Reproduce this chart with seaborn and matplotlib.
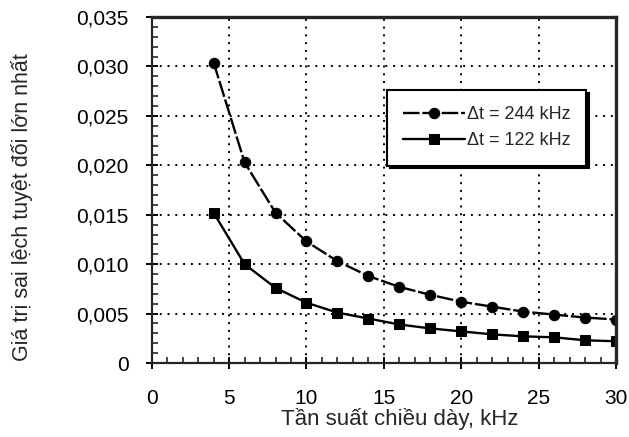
import matplotlib
matplotlib.use("Agg")
import matplotlib.pyplot as plt
from matplotlib.ticker import MultipleLocator, FuncFormatter
import seaborn as sns
import pandas as pd

# Thickness frequency (kHz) and max absolute deviation for two spectral steps
freq = [4, 6, 8, 10, 12, 14, 16, 18, 20, 22, 24, 26, 28, 30]
dev_244 = [0.0304, 0.0203, 0.0152, 0.0123, 0.0103, 0.0088, 0.0077,
           0.0069, 0.0062, 0.0057, 0.0052, 0.0049, 0.0046, 0.0044]
dev_122 = [0.0152, 0.0100, 0.0076, 0.0061, 0.0051, 0.0045, 0.0039,
           0.0035, 0.0032, 0.0029, 0.0027, 0.0026, 0.0023, 0.0022]
series_labels = ["\u0394t = 244 kHz", "\u0394t = 122 kHz"]

x_label = "Tần suất chiều dày, kHz"
y_label = "Giá trị sai lệch tuyệt đối lớn nhất"

df = pd.DataFrame({
    "freq": freq + freq,
    "dev": dev_244 + dev_122,
    "series": [series_labels[0]] * len(freq) + [series_labels[1]] * len(freq),
})

sns.set_style("ticks")
plt.rcParams["font.family"] = ["Liberation Sans", "DejaVu Sans"]

fig = plt.figure(figsize=(6.29, 4.37), dpi=100)
ax = fig.add_axes([0.2412, 0.1693, 0.7381, 0.7917])

sns.lineplot(
    data=df, x="freq", y="dev", hue="series", style="series",
    hue_order=series_labels, style_order=series_labels,
    palette=["black", "black"],
    markers={series_labels[0]: "o", series_labels[1]: "s"},
    dashes={series_labels[0]: (7, 1.2), series_labels[1]: ""},
    markersize=7.5, linewidth=1.7, markeredgecolor="black",
    ax=ax,
)

ax.set_xlim(0, 30)
ax.set_ylim(0, 0.035)
ax.xaxis.set_major_locator(MultipleLocator(5))
ax.xaxis.set_minor_locator(MultipleLocator(1))
ax.yaxis.set_major_locator(MultipleLocator(0.005))
ax.yaxis.set_minor_locator(MultipleLocator(0.001))


def comma_fmt(v, pos):
    if abs(v) < 1e-12:
        return "0"
    return f"{v:.3f}".replace(".", ",")


ax.yaxis.set_major_formatter(FuncFormatter(comma_fmt))

ax.tick_params(which="major", direction="inout", length=9, width=1.4,
               labelsize=15, colors="black")
ax.tick_params(which="minor", direction="in", length=4, width=1.2)
ax.tick_params(axis="x", which="major", pad=14)
ax.tick_params(axis="y", which="major", pad=12)

ax.grid(True, which="major", color="black", linestyle=(0, (1, 3)),
        linewidth=1.4)
ax.set_axisbelow(True)

for side in ["left", "bottom"]:
    ax.spines[side].set_linewidth(1.6)
for side in ["top", "right"]:
    ax.spines[side].set_visible(True)
    ax.spines[side].set_linewidth(2.4)

ax.set_xlabel(x_label, fontsize=16)
ax.set_ylabel(y_label, fontsize=15.5)
ax.xaxis.set_label_coords(0.535, -0.13)
ax.yaxis.set_label_coords(-0.256, 0.451)

leg = ax.legend(
    loc="upper left", bbox_to_anchor=(0.507, 0.789),
    frameon=True, fancybox=False, shadow={"color": "black", "alpha": 1},
    fontsize=13, handlelength=3.4, handletextpad=0.1,
    borderpad=0.9, labelspacing=0.5, borderaxespad=0,
)
leg.get_frame().set_edgecolor("black")
leg.get_frame().set_linewidth(1.5)
leg.get_frame().set_alpha(1)

fig.savefig("out.png", dpi=100)
